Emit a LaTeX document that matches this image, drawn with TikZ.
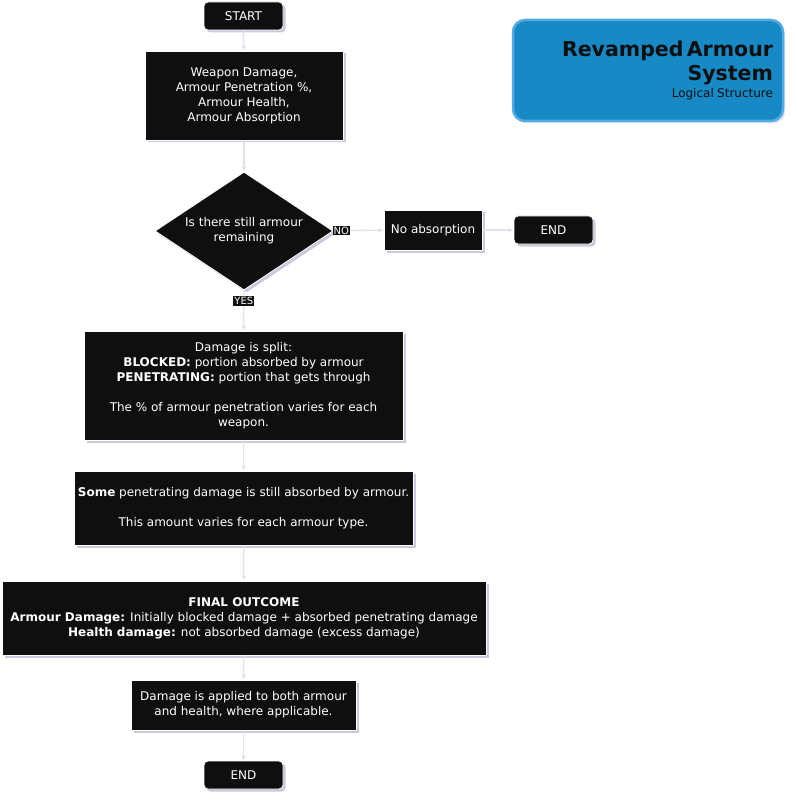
\documentclass[tikz,border=0pt]{standalone}
\usepackage{fontspec}
\setmainfont{DejaVu Sans}
\usetikzlibrary{arrows.meta, shapes.geometric, shadows}

\definecolor{boxfill}{HTML}{0F0F0F}
\definecolor{shade}{HTML}{C4C4DC}
\definecolor{link}{HTML}{E2E2EC}
\definecolor{titlefill}{HTML}{1789C5}
\definecolor{titleline}{HTML}{52ABE2}

\begin{document}
\begin{tikzpicture}[x=1pt,y=-1pt,
    box/.style={draw=white, line width=0.8pt, fill=boxfill, text=white, align=center,
      inner sep=0pt, font=\fontsize{12}{15}\selectfont,
      drop shadow={shadow xshift=2.5pt, shadow yshift=-2.5pt, fill=shade, opacity=0.9}},
    term/.style={box, rounded corners=4pt, minimum width=79pt, minimum height=28pt},
    decision/.style={box, diamond, aspect=1.51, minimum width=178pt, minimum height=118pt},
    lbl/.style={fill=boxfill, text=white, inner sep=1pt, font=\fontsize{10}{11}\selectfont},
    link/.style={draw=link, line width=1.3pt, -{Latex[length=5pt,width=5pt]}}]
  \useasboundingbox (0,0) rectangle (796,802);

  \node[term] (start) at (243.5,16) {START};
  \node[box, minimum width=198pt, minimum height=89pt] (inputs) at (244,95.5)
    {Weapon Damage,\\Armour Penetration \%,\\Armour Health,\\Armour Absorption};
  \node[decision] (check) at (244,231) {Is there still armour\\remaining};
  \node[box, minimum width=98pt, minimum height=40pt] (noabs) at (433,230) {No absorption};
  \node[term] (endright) at (553.5,230) {END};
  \node[box, minimum width=319pt, minimum height=109pt] (split) at (243.5,385.5)
    {Damage is split:\\\textbf{BLOCKED:} portion absorbed by armour\\
     \textbf{PENETRATING:} portion that gets through\\[15pt]
     The \% of armour penetration varies for each\\weapon.};
  \node[box, minimum width=339pt, minimum height=74pt] (absorbed) at (243.5,508)
    {\textbf{Some} penetrating damage is still absorbed by armour.\\[15pt]
     This amount varies for each armour type.};
  \node[box, minimum width=484pt, minimum height=74pt] (outcome) at (244,618)
    {\textbf{FINAL OUTCOME}\\\textbf{Armour Damage:} Initially blocked damage + absorbed penetrating damage\\
     \textbf{Health damage:} not absorbed damage (excess damage)};
  \node[box, minimum width=225pt, minimum height=50pt] (applied) at (243.5,705)
    {Damage is applied to both armour\\and health, where applicable.};
  \node[term] (endbottom) at (243.5,775) {END};

  % title card
  \node[draw=titleline, line width=2.5pt, fill=titlefill, rounded corners=12pt,
    minimum width=270pt, minimum height=101pt, text width=250pt, align=right,
    inner sep=0pt, text=boxfill,
    drop shadow={shadow xshift=2pt, shadow yshift=-2.5pt, fill=shade}] (title) at (648,70.5)
    {{\fontsize{20.5}{24}\selectfont\bfseries Revamped Armour\\System\par}
     {\fontsize{12}{17}\selectfont Logical Structure\par}};

  \draw[link] (start) -- (inputs);
  \draw[link] (inputs) -- (check);
  \draw[link] (check) -- node[lbl, pos=0.17] {NO} (noabs);
  \draw[link] (noabs) -- (endright);
  \draw[link] (check) -- node[lbl, pos=0.27] {YES} (split);
  \draw[link] (split) -- (absorbed);
  \draw[link] (absorbed) -- (outcome);
  \draw[link] (outcome) -- (applied);
  \draw[link] (applied) -- (endbottom);
\end{tikzpicture}
\end{document}
